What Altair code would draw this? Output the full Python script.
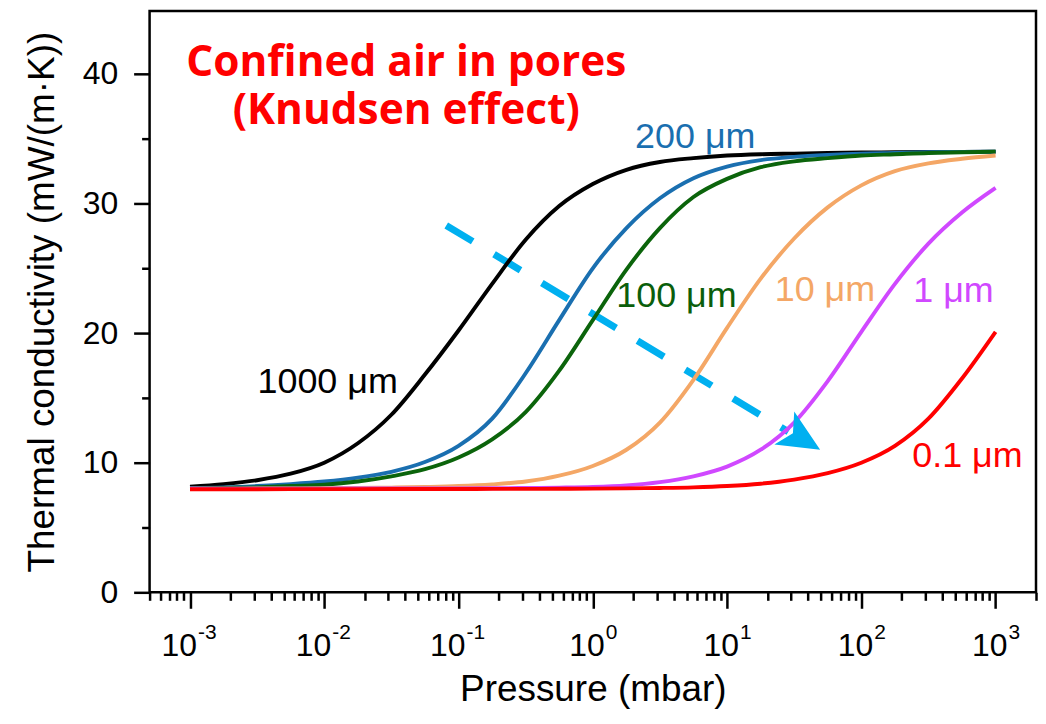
import altair as alt
import pandas as pd

# ---------------- data ----------------
SERIES = ["1000 μm", "200 μm", "100 μm", "10 μm", "1 μm", "0.1 μm"]
LINE_COLORS = ["#000000", "#1A6FB0", "#0B640B", "#F4A766", "#D048FF", "#FF0000"]
TEXT_COLORS = ["#000000", "#1A6FB0", "#0B5E0B", "#F4A766", "#D048FF", "#FF0000"]

# pressure (mbar) at which the curves were read
P_READ = [0.001, 0.00178, 0.00316, 0.00562, 0.01, 0.0178, 0.0316, 0.0562, 0.1, 0.178, 0.316, 0.562,
          1, 1.78, 3.16, 5.62, 10, 17.8, 31.6, 56.2, 100, 178, 316, 562, 1000]

# thermal conductivity (mW/(m·K)) read at those pressures
K_1000 = [8.15, 8.35, 8.65, 9.15, 10.0, 11.5, 13.7, 16.8, 20.2, 23.8, 27.2, 29.8,
          31.5, 32.6, 33.2, 33.5, 33.7, 33.8, 33.85, 33.9, 33.93, 33.95, 33.97, 33.98, 34.0]
K_200 = [8.05, 8.1, 8.2, 8.35, 8.55, 8.85, 9.3, 10.05, 11.3, 13.4, 16.9, 21.0,
         25.0, 28.1, 30.4, 31.95, 32.85, 33.35, 33.6, 33.75, 33.85, 33.9, 33.95, 33.98, 34.0]
K_100 = [8.0, 8.05, 8.1, 8.2, 8.3, 8.55, 8.95, 9.5, 10.4, 11.8, 13.9, 17.1,
         21.0, 24.9, 28.1, 30.5, 31.9, 32.8, 33.25, 33.5, 33.7, 33.8, 33.9, 33.95, 34.0]
K_10 = [8.0, 8.0, 8.01, 8.02, 8.03, 8.05, 8.08, 8.13, 8.2, 8.33, 8.55, 9.0,
        9.75, 11.0, 13.1, 16.4, 20.4, 24.2, 27.3, 29.7, 31.4, 32.5, 33.1, 33.45, 33.7]
K_1 = [8.0, 8.0, 8.0, 8.0, 8.0, 8.01, 8.01, 8.02, 8.02, 8.03, 8.05, 8.08,
       8.13, 8.25, 8.5, 8.95, 9.7, 11.0, 13.1, 16.3, 20.1, 23.8, 26.9, 29.3, 31.2]
K_01 = [7.95, 7.95, 7.95, 7.96, 7.96, 7.96, 7.97, 7.97, 7.97, 7.98, 7.98, 7.99,
        8.0, 8.02, 8.05, 8.1, 8.2, 8.38, 8.7, 9.2, 10.0, 11.3, 13.4, 16.5, 20.1]

CURVES_K = [K_1000, K_200, K_100, K_10, K_1, K_01]

# series label anchor positions (pressure, conductivity)
LABEL_P = [0.0106, 5.8, 4.2, 53.6, 486, 617]
LABEL_K = [15.4, 34.3, 22.0, 22.5, 22.4, 9.7]

TITLE_LINES = ["Confined air in pores", "(Knudsen effect)"]
TITLE_P = [0.0408, 0.0408]
TITLE_K = [39.85, 36.1]

ARROW_P = [0.081, 28.6]
ARROW_K = [28.31, 12.38]
ARROW_HEAD_P = [36.3]
ARROW_HEAD_K = [11.84]

MAJOR_X = [0.001, 0.01, 0.1, 1, 10, 100, 1000]
NEG_DECADES = [0.001, 0.01, 0.1]
NEG_EXPONENTS = ["-3", "-2", "-1"]
POS_DECADES = [1, 10, 100, 1000]
POS_EXPONENTS = ["0", "1", "2", "3"]
X_DOMAIN = [0.0005, 2000]
MINOR_X = [m * 10.0 ** k for k in range(-4, 4) for m in range(2, 10)]
MINOR_X = [v for v in MINOR_X if X_DOMAIN[0] * 0.999 <= v <= X_DOMAIN[1] * 1.001]
X_TICKS = sorted(MAJOR_X + MINOR_X)
Y_TICKS = [0, 5, 10, 15, 20, 25, 30, 35, 40]
Y_DOMAIN = [0, 44.85]

FONT = "Liberation Sans"

# ---------------- encodings ----------------
MAJOR_TEST = "abs(log(datum.value)/LN10 - round(log(datum.value)/LN10)) < 0.001"

x_axis = alt.Axis(
    values=X_TICKS, labels=False, title="Pressure (mbar)", domain=False, grid=False,
    tickColor="black", tickWidth=2.5, tickSize=16,
    tickDash={"condition": {"test": MAJOR_TEST, "value": []}, "value": [8, 40]},
    titleFont=FONT, titleFontSize=37, titleFontWeight="normal", titleColor="black",
    titlePadding=62,
)
y_axis = alt.Axis(
    values=Y_TICKS, labelExpr="datum.value % 10 == 0 ? datum.label : ''",
    domain=False, grid=False, tickColor="black", tickWidth=2.5, tickSize=16,
    tickDash={"condition": {"test": "datum.value % 10 != 0", "value": [8, 40]}, "value": []},
    labelFont=FONT, labelFontSize=32, labelColor="black", labelPadding=16,
    labelOverlap=False, labelFlush=False,
    title="Thermal conductivity (mW/(m·K))", titleFont=FONT, titleFontSize=37,
    titleFontWeight="normal", titleColor="black", titlePadding=21,
)
x_scale = alt.Scale(type="log", domain=X_DOMAIN, nice=False)
y_scale = alt.Scale(domain=Y_DOMAIN, nice=False, zero=False)


def X(field="p"):
    return alt.X(f"{field}:Q", scale=x_scale, axis=x_axis)


def Y(field="k"):
    return alt.Y(f"{field}:Q", scale=y_scale, axis=y_axis)


layers = []

# arrow (dashed)
arrow_df = pd.DataFrame({"p": ARROW_P, "k": ARROW_K})
layers.append(
    alt.Chart(arrow_df).mark_line(color="#00B0F0", strokeWidth=7, strokeDash=[31, 25], strokeCap="butt")
    .encode(x=X(), y=Y())
)

# curves
for name, ks, col in zip(SERIES, CURVES_K, LINE_COLORS):
    df = pd.DataFrame({"p": P_READ, "k": ks, "series": name})
    layers.append(
        alt.Chart(df).mark_line(color=col, strokeWidth=3.9, interpolate="monotone")
        .encode(x=X(), y=Y())
    )

# arrow head
ARROW_PATH = "M 1 0 L -1 -0.92 L -0.52 0 L -1 0.92 Z"
head_df = pd.DataFrame({"p": ARROW_HEAD_P, "k": ARROW_HEAD_K})
layers.append(
    alt.Chart(head_df).mark_point(shape=ARROW_PATH, size=1764, angle=31.1, filled=True,
                                  color="#00B0F0", opacity=1, strokeWidth=0)
    .encode(x=X(), y=Y())
)

# series labels
lab_df = pd.DataFrame({"p": LABEL_P, "k": LABEL_K, "text": SERIES, "color": TEXT_COLORS})
layers.append(
    alt.Chart(lab_df).mark_text(font=FONT, fontSize=36, align="center", baseline="alphabetic")
    .encode(x=X(), y=Y(), text="text:N", color=alt.Color("color:N", scale=None))
)

# red annotation
title_df = pd.DataFrame({"p": TITLE_P, "k": TITLE_K, "text": TITLE_LINES})
layers.append(
    alt.Chart(title_df).mark_text(font="Open Sans", fontWeight="bold", fontSize=42.5, color="#FF0000",
                                  align="center", baseline="alphabetic")
    .encode(x=X(), y=Y(), text="text:N")
)

# x tick labels 10^n
neg_df = pd.DataFrame({"p": NEG_DECADES, "k": [0] * len(NEG_DECADES), "base": "10", "exp": NEG_EXPONENTS})
pos_df = pd.DataFrame({"p": POS_DECADES, "k": [0] * len(POS_DECADES), "base": "10", "exp": POS_EXPONENTS})
for df, dx10, dxe in [(neg_df, 7, 8), (pos_df, 12, 13)]:
    layers.append(
        alt.Chart(df).mark_text(font=FONT, fontSize=32, color="black", align="right",
                                baseline="alphabetic", dx=dx10, dy=64)
        .encode(x=X(), y=Y(), text="base:N")
    )
    layers.append(
        alt.Chart(df).mark_text(font=FONT, fontSize=21, color="black", align="left",
                                baseline="alphabetic", dx=dxe, dy=47)
        .encode(x=X(), y=Y(), text="exp:N")
    )

chart = (
    alt.layer(*layers)
    .properties(
        width=889, height=583,
        autosize=alt.AutoSizeParams(type="none"),
        padding={"left": 142, "top": 2, "right": 2, "bottom": 117},
        background="white",
    )
    .configure_view(stroke="black", strokeWidth=2.5)
)

chart.save("out.html", embed_options={"renderer": "svg", "actions": False})
